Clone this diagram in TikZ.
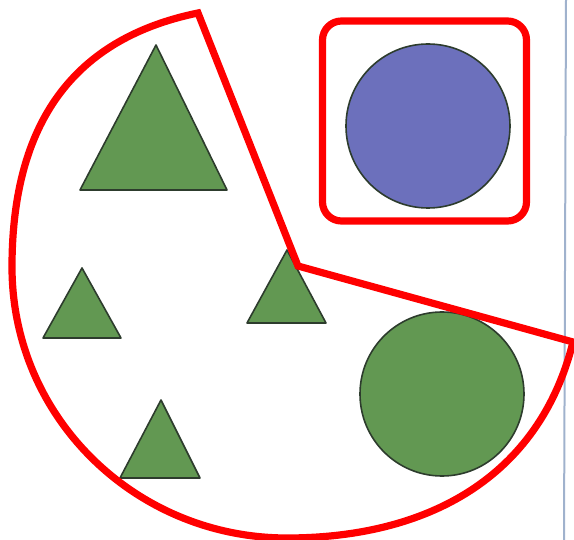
\documentclass[tikz,border=0pt]{standalone}
\usetikzlibrary{positioning}
\definecolor{figgreen}{RGB}{98,152,82}
\definecolor{figblue}{RGB}{108,112,188}
\definecolor{figedge}{RGB}{45,60,45}
\definecolor{scanline}{RGB}{160,178,205}

\begin{document}
\begin{tikzpicture}[x=0.5pt, y=-0.5pt,
  trifig/.style={fill=figgreen, draw=figedge, line width=0.8pt, line join=round},
  disc/.style={circle, draw=figedge, line width=0.8pt, minimum size=82pt, inner sep=0pt},
  redline/.style={draw=red, line width=3.6pt}]
\useasboundingbox (0,0) rectangle (574,540);
\draw[scanline, line width=1pt] (566,0) -- (564,540);

\draw[trifig] (156,45) -- (80,190) -- (227,190) -- cycle;
\draw[trifig] (82,268) -- (43,338) -- (121,338) -- cycle;
\draw[trifig] (287,250) -- (247,323) -- (326,323) -- cycle;
\draw[trifig] (161,400) -- (120,478) -- (200,478) -- cycle;

\node[disc, fill=figblue] (bluedisc) at (428,126) {};
\node[disc, fill=figgreen] (greendisc) at (442,394) {};

\node[redline, rounded corners=9.5pt, minimum width=102pt, minimum height=100pt] (frame) at (424.5,121) {};

\coordinate (rim) at (573,342);
\coordinate (bottom) at (287,538);
\coordinate (left) at (12,267);
\coordinate (tip) at (198,13);
\coordinate (notch) at (298,266);
\draw[redline] (rim) .. controls (539,478) and (427,538) .. (bottom)
  .. controls (136,538) and (12,418) .. (left)
  .. controls (12,132) and (66,40) .. (tip) -- (notch) -- cycle;
\end{tikzpicture}
\end{document}
